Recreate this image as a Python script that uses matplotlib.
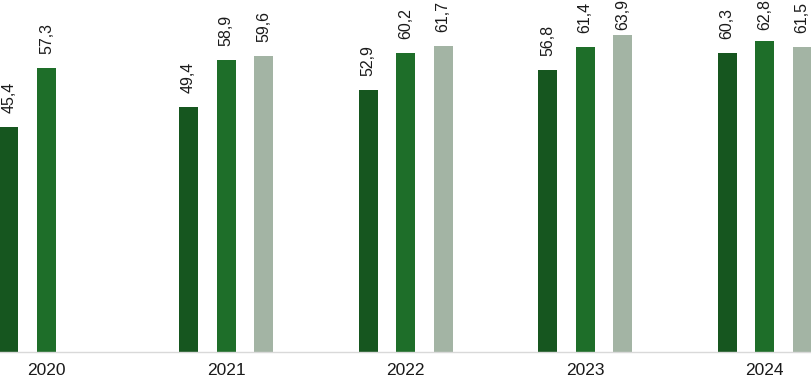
import numpy as np
import matplotlib
matplotlib.use("Agg")
import matplotlib.pyplot as plt

plt.rcParams["font.family"] = ["Liberation Sans", "DejaVu Sans"]

# Dati
anni = ["2020", "2021", "2022", "2023", "2024"]
serie_1 = [45.4, 49.4, 52.9, 56.8, 60.3]
serie_2 = [57.3, 58.9, 60.2, 61.4, 62.8]
serie_3 = [None, 59.6, 61.7, 63.9, 61.5]

colori = ["#16561f", "#1e6e29", "#a3b4a4"]

fig = plt.figure(figsize=(8.11, 3.79), dpi=100)
ax = fig.add_axes([0, 27 / 379, 1, 352 / 379])

x = np.arange(len(anni))
passo = 37.5 / 179.5
larghezza = 19 / 179.5
px = 4.96  # pixel per unita'
y_max = 352 / px
# le etichette non escono dall'area: fondo etichetta al massimo 30 px dal bordo alto
lim_etichetta = (352 - 30) / px

for i, (valori, col) in enumerate(zip([serie_1, serie_2, serie_3], colori)):
    for xi, v in zip(x, valori):
        if v is None:
            continue
        pos = xi + (i - 1) * passo
        ax.bar(pos, v, width=larghezza, color=col)
        y_et = min(v + 14 / px, lim_etichetta)
        ax.text(pos, y_et, f"{v:.1f}".replace(".", ","),
                rotation=90, ha="center", va="bottom",
                fontsize=11.5, color="#1a1a1a", clip_on=False)

ax.set_xlim(-46.5 / 179.5, (811 - 46.5) / 179.5)
ax.set_ylim(0, y_max)
ax.set_xticks(x)
ax.set_xticklabels(anni, fontsize=12.5, color="#1a1a1a")
ax.tick_params(axis="x", length=0, pad=8)
ax.set_yticks([])
for s in ["top", "left", "right"]:
    ax.spines[s].set_visible(False)
ax.spines["bottom"].set_color("#d9d9d9")
ax.spines["bottom"].set_linewidth(1)

plt.savefig("out.png", dpi=100)
